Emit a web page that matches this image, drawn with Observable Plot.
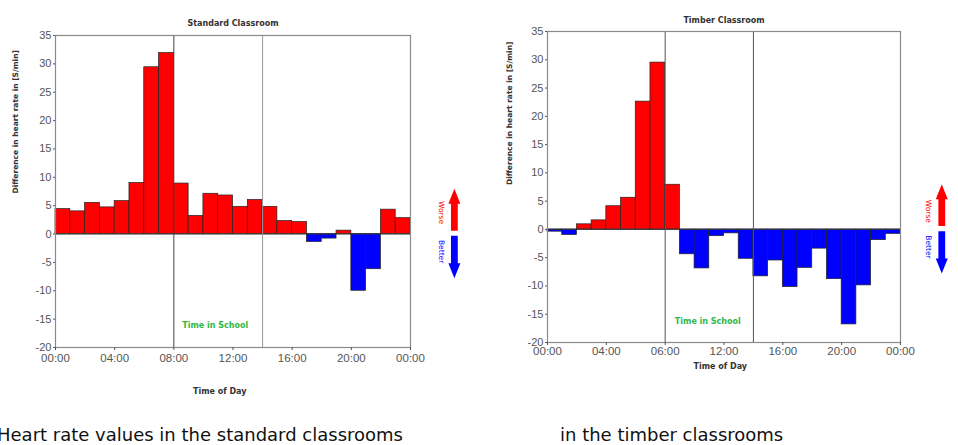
<!DOCTYPE html>
<html><head><meta charset="utf-8">
<script src="https://cdn.jsdelivr.net/npm/d3@7"></script>
<script src="https://cdn.jsdelivr.net/npm/@observablehq/plot@0.6"></script>
<style>
body{margin:0;background:#fff;}
#wrap{position:relative;width:958px;height:445px;overflow:hidden;background:#fff;}
.chart{position:absolute;top:0;}
.cap{position:absolute;font-family:"DejaVu Sans",Verdana,sans-serif;font-size:18px;color:#111;white-space:nowrap;top:424px;line-height:21px;}
</style></head><body>
<div id="wrap">
<div id="left" class="chart" style="left:0"></div>
<div id="right" class="chart" style="left:480px"></div>
<div class="cap" style="left:-3px">Heart rate values in the standard classrooms</div>
<div class="cap" style="left:560px">in the timber classrooms</div>
</div>
<script>
// hour bins (start hour of each 1-hour bar)
const hourStart = [0,1,2,3,4,5,6,7,8,9,10,11,12,13,14,15,16,17,18,19,20,21,22,23];
const standardValues = [4.4,4.0,5.5,4.7,5.8,9.0,29.4,31.9,8.9,3.2,7.1,6.8,4.8,6.0,4.8,2.3,2.1,-1.4,-0.8,0.6,-10.0,-6.2,4.3,2.8];
const timberValues = [-0.4,-1.0,0.9,1.6,4.1,5.6,22.6,29.5,7.9,-4.4,-6.9,-1.2,-0.7,-5.2,-8.3,-5.5,-10.2,-6.8,-3.4,-8.8,-16.8,-9.9,-1.9,-0.8];
const xTickHours = [0,4,8,12,16,20,24];
const xTickLabelsStandard = ["00:00","04:00","08:00","12:00","16:00","20:00","00:00"];
const xTickLabelsTimber = ["00:00","04:00","06:00","12:00","16:00","20:00","00:00"];
const yTicks = [-20,-15,-10,-5,0,5,10,15,20,25,30,35];
const schoolStart = 8, schoolEnd = 14;
const titles = ["Standard Classroom","Timber Classroom"];
const yLabel = "Difference in heart rate in [S/min]";
const xLabel = "Time of Day";
const schoolLabel = "Time in School";

function makeChart(cfg){
  const data = hourStart.map((h,i)=>({h, v: cfg.values[i]}));
  const plot = Plot.plot({
    width: cfg.width, height: cfg.height,
    marginLeft: cfg.ml, marginRight: cfg.mr, marginTop: cfg.mt, marginBottom: cfg.mb,
    style: {fontFamily: "'Liberation Sans', Arial, sans-serif", background: "transparent", overflow: "visible"},
    x: {domain: [0,24], label: null},
    y: {domain: [-20,35], label: null},
    marks: [
      Plot.rectY(data, {x1: "h", x2: d=>d.h+1, y: "v", fill: d=>d.v>=0?"#ff0000":"#0000ff", stroke: "#222", strokeWidth: 0.7, inset: 0}),
      Plot.ruleY([0], {stroke: "#333", strokeWidth: 1}),
      Plot.ruleX([schoolStart], {stroke: cfg.rule1, strokeWidth: 1}),
      Plot.ruleX([schoolEnd], {stroke: cfg.rule2, strokeWidth: 1}),
      Plot.frame({stroke: "#8a8a8a", strokeWidth: 1.2}),
      Plot.axisX(xTickHours, {tickFormat: d => cfg.xLabels[xTickHours.indexOf(d)], tickSize: 3, tickPadding: cfg.xPad, fontSize: 11.5, color: "#555", label: null}),
      Plot.axisY(yTicks, {tickFormat: d => String(d), tickSize: 2, tickPadding: 2, fontSize: 11, color: "#555", label: null}),
      Plot.text([cfg.title], {frameAnchor: "top", dy: cfg.titleDy, fontWeight: "bold", fontSize: 8, fontFamily: "DejaVu Sans", fill: "#333"}),
      Plot.text([yLabel], {frameAnchor: "left", dx: cfg.yLabDx, dy: cfg.yLabDy, rotate: -90, fontWeight: "bold", fontSize: 7.5, fontFamily: "DejaVu Sans", fill: "#333"}),
      Plot.text([xLabel], {x: [cfg.xLabX], frameAnchor: "bottom", dy: cfg.xLabDy, fontWeight: "bold", fontSize: 8, fontFamily: "DejaVu Sans", fill: "#333"}),
      Plot.text([schoolLabel], {x: [cfg.schoolX], y: [cfg.schoolY], fontWeight: "bold", fontSize: 8, fontFamily: "DejaVu Sans", fill: "#2eb84a"}),
      Plot.text(["Worse"], {x: [cfg.wordX], y: [cfg.worseY], rotate: 90, fontSize: 7.5, fontFamily: "DejaVu Sans", fill: "#ff0000", clip: false}),
      Plot.text(["Better"], {x: [cfg.wordX], y: [cfg.betterY], rotate: 90, fontSize: 7.5, fontFamily: "DejaVu Sans", fill: "#0000ff", clip: false})
    ]
  });
  // block arrows in the right margin
  const xs = plot.scale("x"), ys = plot.scale("y");
  const cx = xs.apply(cfg.arrowX);
  const svg = d3.select(plot.tagName.toLowerCase()==="svg" ? plot : plot.querySelector("svg"));
  const sw = 3.4, hw = 6, hh = 15;
  function arrow(y0, y1, color){
    const p0 = ys.apply(y0), p1 = ys.apply(y1); // base, tip
    const dir = p1 < p0 ? 1 : -1; // 1 = up
    const neck = p1 + dir*hh;
    const pts = [[cx-sw,p0],[cx-sw,neck],[cx-hw,neck],[cx,p1],[cx+hw,neck],[cx+sw,neck],[cx+sw,p0]];
    svg.append("polygon").attr("points", pts.map(p=>p.join(",")).join(" ")).attr("fill", color);
  }
  arrow(0.5, 7.9, "#ff0000");
  arrow(-0.4, -7.9, "#0000ff");
  return plot;
}

document.getElementById("left").appendChild(makeChart({
  values: standardValues, xLabels: xTickLabelsStandard, title: titles[0],
  width: 470, height: 400, ml: 55, mr: 60, mt: 35, mb: 53,
  rule1: "#444", rule2: "#999", xPad: 3,
  titleDy: -15, yLabDx: -40, yLabDy: 2, xLabX: 11.1, xLabDy: 46,
  schoolX: 10.8, schoolY: -16.1, wordX: 26.1, worseY: 3.8, betterY: -3.1, arrowX: 27.0
}));
document.getElementById("right").appendChild(makeChart({
  values: timberValues, xLabels: xTickLabelsTimber, title: titles[1],
  width: 478, height: 400, ml: 67, mr: 58, mt: 31, mb: 58,
  rule1: "#555", rule2: "#555", xPad: 1,
  titleDy: -14, yLabDx: -38, yLabDy: -2, xLabX: 11.75, xLabDy: 26,
  schoolX: 10.9, schoolY: -16.3, wordX: 25.93, worseY: 3.2, betterY: -3.1, arrowX: 26.84
}));
</script>
</body></html>
